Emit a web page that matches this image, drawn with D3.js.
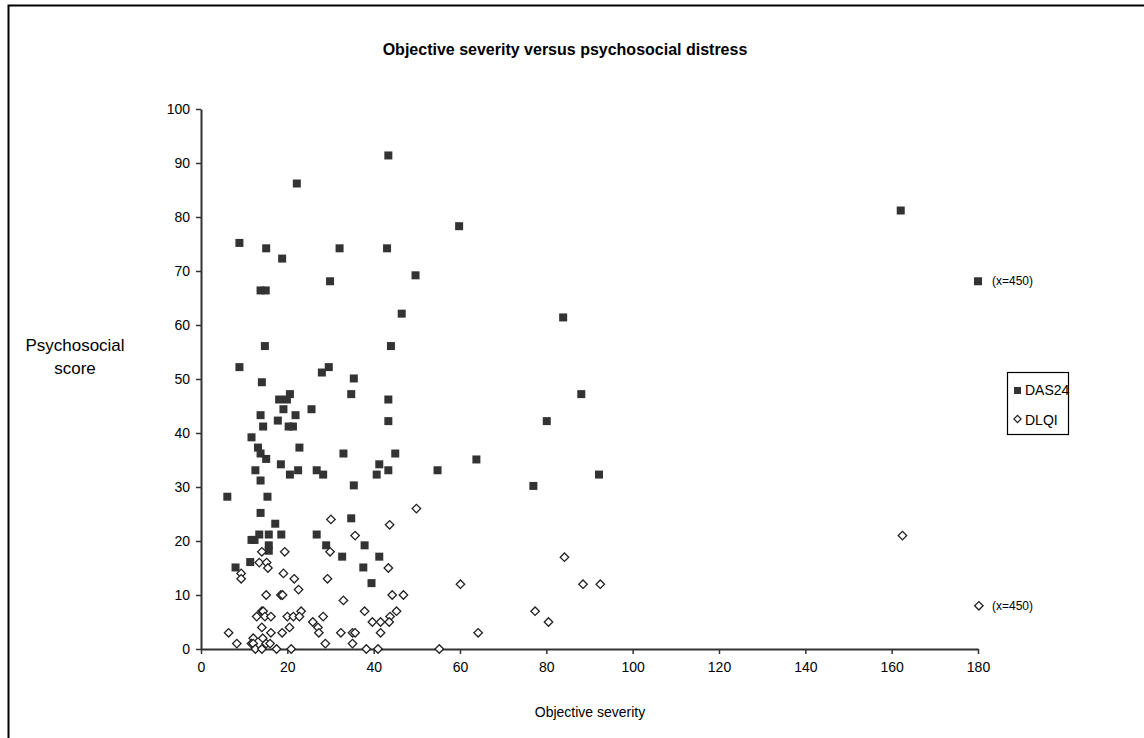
<!DOCTYPE html>
<html>
<head>
<meta charset="utf-8">
<script src="https://cdn.jsdelivr.net/npm/d3@7"></script>
<style>
  body { margin: 0; background: #fff; }
  text { font-family: "Liberation Sans", Arial, sans-serif; fill: #000; }
</style>
</head>
<body>
<div id="chart"></div>
<script>
// DAS24 points [objective severity, score]; last one is really x=450, plotted at the edge
const das24 = [
  [22.2, 86.2], [8.9, 75.2], [15.1, 74.2], [18.8, 72.3], [29.9, 68.1], [13.8, 66.4], [15, 66.4],
  [43.4, 91.4], [59.8, 78.3], [32.1, 74.2], [43.1, 74.2], [49.7, 69.2], [46.5, 62.1],
  [14.8, 56.1], [44, 56.1], [8.9, 52.2], [29.6, 52.2], [28, 51.2], [35.4, 50.1], [14.1, 49.4],
  [20.6, 47.2], [19.9, 46.2], [18.1, 46.2], [34.8, 47.2], [43.4, 46.2], [19.1, 44.4], [25.6, 44.4],
  [13.8, 43.3], [21.9, 43.3], [17.8, 42.3], [43.4, 42.2], [14.4, 41.2], [20.3, 41.2], [21.3, 41.2],
  [11.7, 39.2], [13.2, 37.3], [22.8, 37.3], [13.8, 36.2], [33, 36.2], [45, 36.2], [15.1, 35.2],
  [63.8, 35.1], [18.5, 34.2], [41.3, 34.2], [12.6, 33.1], [22.5, 33.1], [26.8, 33.1], [43.4, 33.1],
  [54.8, 33.1], [20.6, 32.3], [28.3, 32.3], [40.7, 32.3], [13.8, 31.2], [35.4, 30.3], [6.1, 28.2],
  [15.4, 28.2], [13.8, 25.2], [34.8, 24.2], [17.2, 23.2], [13.5, 21.2], [15.7, 21.2], [18.6, 21.2],
  [26.8, 21.2], [11.7, 20.2], [12.4, 20.2], [15.7, 19.2], [15.7, 18.2], [29, 19.2], [37.9, 19.2],
  [32.7, 17.1], [41.3, 17.1], [11.4, 16.1], [8, 15.1], [37.6, 15.1], [39.5, 12.2],
  [83.9, 61.4], [88.1, 47.2], [80.1, 42.2], [92.2, 32.3], [77, 30.2], [162.1, 81.2], [180, 68.1]
];

// DLQI points
const dlqi = [
  [30.1, 24], [14.1, 18], [19.4, 18], [29.9, 18], [13.5, 16], [15.2, 16], [15.5, 15], [9.3, 14],
  [9.3, 13], [19.1, 14], [21.6, 13], [29.3, 13], [22.6, 11], [15.1, 10], [18.5, 10], [18.9, 10],
  [14.1, 7], [14.4, 7], [23.2, 7], [12.9, 6], [14.8, 6], [16.2, 6], [20, 6], [21.4, 6], [22.8, 6],
  [28.3, 6], [25.9, 5], [27.1, 4], [27.3, 3], [14.1, 4], [20.5, 4], [6.4, 3], [16.2, 3], [18.8, 3],
  [12.1, 2], [14.3, 2], [8.3, 1], [11.7, 1], [12.1, 1], [15.1, 1], [16, 1], [28.8, 1],
  [12.6, 0], [14.1, 0], [17.5, 0], [20.9, 0],
  [49.9, 26], [43.7, 23], [35.7, 21], [43.4, 15], [60.1, 12], [33, 9], [44.3, 10], [46.9, 10],
  [37.9, 7], [45.3, 7], [43.8, 6], [39.7, 5], [41.6, 5], [43.6, 5], [32.4, 3], [35.1, 3], [35.7, 3],
  [41.6, 3], [64.2, 3], [35.1, 1], [38.3, 0], [41, 0], [55.2, 0],
  [84.2, 17], [88.5, 12], [92.5, 12], [77.4, 7], [80.5, 5], [162.5, 21], [180.2, 8]
];

const xTicks = d3.range(0, 181, 20);
const yTicks = d3.range(0, 101, 10);
const outliers = [[180, 68.1], [180, 8]];   // points drawn at the edge, really x=450
const seriesNames = ["DAS24", "DLQI"];

const width = 1144, height = 738;
const svg = d3.select("#chart").append("svg")
  .attr("width", width)
  .attr("height", height);

// outer chart frame
svg.append("rect")
  .attr("x", 8.5).attr("y", 5.5)
  .attr("width", 1300).attr("height", 900)
  .attr("fill", "none")
  .attr("stroke", "#000")
  .attr("stroke-width", 2);

const x = d3.scaleLinear().domain([0, 180]).range([201, 978]);
const y = d3.scaleLinear().domain([0, 100]).range([649, 109]);

// axes
const xAxis = svg.append("g")
  .attr("transform", `translate(0, ${y(0)})`)
  .call(d3.axisBottom(x).tickValues(xTicks).tickSize(5).tickPadding(8).tickSizeOuter(0));
const yAxis = svg.append("g")
  .attr("transform", `translate(${x(0)}, 0)`)
  .call(d3.axisLeft(y).tickValues(yTicks).tickSize(5).tickPadding(6).tickSizeOuter(0));

[xAxis, yAxis].forEach(ax => {
  ax.select(".domain").attr("stroke", "#333").attr("stroke-width", 2);
  ax.selectAll(".tick line").attr("stroke", "#333").attr("stroke-width", 1.5);
  ax.selectAll(".tick text")
    .attr("font-family", "Liberation Sans, Arial, sans-serif")
    .attr("font-size", 14)
    .attr("fill", "#000");
});
yAxis.selectAll(".tick text").attr("dy", "0.35em");

// series
const sq = 8;
svg.append("g").selectAll("rect")
  .data(das24).enter()
  .append("rect")
  .attr("x", d => x(d[0]) - sq / 2)
  .attr("y", d => y(d[1]) - sq / 2)
  .attr("width", sq).attr("height", sq)
  .attr("fill", "#333");

const diamond = d3.symbol().type(d3.symbolSquare).size(36);
svg.append("g").selectAll("path")
  .data(dlqi).enter()
  .append("path")
  .attr("d", diamond)
  .attr("transform", d => `translate(${x(d[0])}, ${y(d[1])}) rotate(45)`)
  .attr("fill", "#fff")
  .attr("stroke", "#222")
  .attr("stroke-width", 1.3);

// x=450 notes
svg.append("g").selectAll("text")
  .data(outliers).enter()
  .append("text")
  .attr("x", d => x(d[0]) + 14)
  .attr("y", d => y(d[1]) + 4)
  .attr("font-size", 12)
  .text("(x=450)");

// titles
svg.append("text")
  .attr("x", 565).attr("y", 55)
  .attr("text-anchor", "middle")
  .attr("font-size", 16)
  .attr("font-weight", "bold")
  .text("Objective severity versus psychosocial distress");

svg.append("text")
  .attr("x", 590).attr("y", 717)
  .attr("text-anchor", "middle")
  .attr("font-size", 14)
  .text("Objective severity");

svg.append("text")
  .attr("x", 75).attr("text-anchor", "middle")
  .attr("font-size", 17)
  .selectAll("tspan")
  .data(["Psychosocial", "score"]).enter()
  .append("tspan")
  .attr("x", 75)
  .attr("y", (d, i) => 351 + i * 23)
  .text(d => d);

// legend
const legend = svg.append("g").attr("transform", "translate(1007, 372)");
legend.append("rect")
  .attr("x", 0.5).attr("y", 0.5)
  .attr("width", 61).attr("height", 62)
  .attr("fill", "#fff")
  .attr("stroke", "#000")
  .attr("stroke-width", 1.2);

legend.append("rect")
  .attr("x", 7).attr("y", 15)
  .attr("width", 7).attr("height", 7)
  .attr("fill", "#333");
legend.append("path")
  .attr("d", d3.symbol().type(d3.symbolSquare).size(26))
  .attr("transform", "translate(10.5, 47) rotate(45)")
  .attr("fill", "#fff")
  .attr("stroke", "#222")
  .attr("stroke-width", 1.2);

legend.selectAll("text.lbl")
  .data(seriesNames).enter()
  .append("text")
  .attr("class", "lbl")
  .attr("x", 18)
  .attr("y", (d, i) => 23 + i * 30)
  .attr("font-size", 14)
  .text(d => d);
</script>
</body>
</html>
